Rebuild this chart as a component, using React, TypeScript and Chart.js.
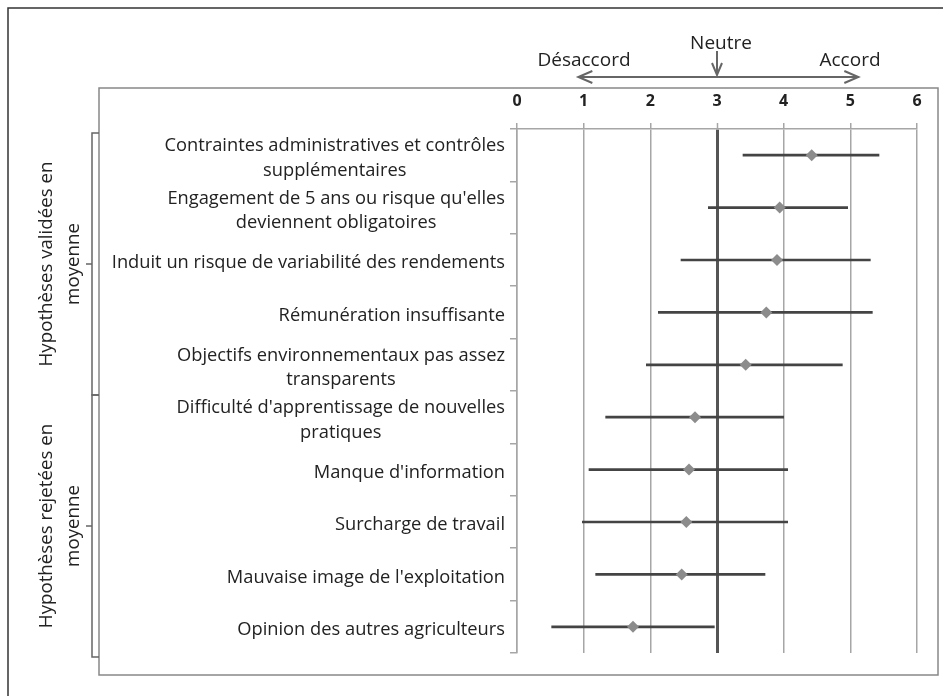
import React, { useEffect, useRef } from "react";
import { Chart, registerables } from "chart.js";

Chart.register(...registerables);

const categories: string[][] = [
  ["Contraintes administratives et contrôles", "supplémentaires"],
  ["Engagement de 5 ans ou risque qu'elles", "deviennent obligatoires"],
  ["Induit un risque de variabilité des rendements"],
  ["Rémunération insuffisante"],
  ["Objectifs environnementaux pas assez", "transparents"],
  ["Difficulté d'apprentissage de nouvelles", "pratiques"],
  ["Manque d'information"],
  ["Surcharge de travail"],
  ["Mauvaise image de l'exploitation"],
  ["Opinion des autres agriculteurs"],
];

const means: number[] = [4.42, 3.94, 3.9, 3.74, 3.43, 2.67, 2.58, 2.54, 2.47, 1.74];
const lows: number[] = [3.39, 2.87, 2.46, 2.12, 1.94, 1.33, 1.08, 0.98, 1.18, 0.52];
const highs: number[] = [5.43, 4.96, 5.3, 5.33, 4.88, 4.0, 4.06, 4.06, 3.72, 2.96];

const xTicks: number[] = [0, 1, 2, 3, 4, 5, 6];
const neutralValue = 3;

const groupLabels: string[][] = [
  ["Hypothèses validées en", "moyenne"],
  ["Hypothèses rejetées en", "moyenne"],
];
const groupRanges: number[][] = [
  [0, 4],
  [5, 9],
];

const topLabels = { left: "Désaccord", middle: "Neutre", right: "Accord" };
const arrowRange: number[] = [0.92, 5.12];

const FONT = "'Open Sans', Lato, sans-serif";

// Center multi-line category labels as a block (block stays right-aligned to the axis)
const labelAlignPlugin = {
  id: "labelAlign",
  beforeDraw(chart: any) {
    const ys = chart.scales.y;
    const items = ys.getLabelItems(chart.chartArea);
    const ctx = chart.ctx;
    items.forEach((item: any) => {
      if (item._adjusted) return;
      item._adjusted = true;
      const [x, y] = item.options.translation;
      if (Array.isArray(item.label) && item.label.length > 1) {
        ctx.save();
        ctx.font = item.font.string;
        const maxW = Math.max(...item.label.map((l: string) => ctx.measureText(l).width));
        ctx.restore();
        item.options.textAlign = "center";
        item.options.translation = [x - maxW / 2, y + 3];
      } else {
        item.options.translation = [x, y + 3];
      }
    });
  },
};

const annotationPlugin = {
  id: "annotations",
  beforeDraw(chart: any) {
    const ctx = chart.ctx;
    ctx.save();
    ctx.fillStyle = "#ffffff";
    ctx.fillRect(0, 0, chart.width, chart.height);
    ctx.restore();
  },
  afterDraw(chart: any) {
    const ctx = chart.ctx;
    const xs = chart.scales.x;
    const ys = chart.scales.y;
    ctx.save();

    // outer frame (top and left)
    ctx.strokeStyle = "#333";
    ctx.lineWidth = 1.5;
    ctx.beginPath();
    ctx.moveTo(8, chart.height + 2);
    ctx.lineTo(8, 8);
    ctx.lineTo(chart.width + 2, 8);
    ctx.stroke();

    // inner frame
    ctx.strokeStyle = "#888";
    ctx.lineWidth = 1.5;
    ctx.strokeRect(99, 88, 839, 587);

    // top arrows
    const ay = 77;
    const x1 = xs.getPixelForValue(arrowRange[0]);
    const x2 = xs.getPixelForValue(arrowRange[1]);
    const xn = xs.getPixelForValue(neutralValue);
    ctx.strokeStyle = "#666";
    ctx.lineWidth = 2;
    ctx.beginPath();
    ctx.moveTo(x1, ay);
    ctx.lineTo(x2, ay);
    ctx.moveTo(x1 + 14, ay - 6);
    ctx.lineTo(x1, ay);
    ctx.lineTo(x1 + 14, ay + 6);
    ctx.moveTo(x2 - 14, ay - 6);
    ctx.lineTo(x2, ay);
    ctx.lineTo(x2 - 14, ay + 6);
    ctx.moveTo(xn, 51);
    ctx.lineTo(xn, 75);
    ctx.moveTo(xn - 5, 63);
    ctx.lineTo(xn, 75);
    ctx.lineTo(xn + 5, 63);
    ctx.stroke();

    ctx.fillStyle = "#222";
    ctx.font = `19px ${FONT}`;
    ctx.textAlign = "center";
    ctx.textBaseline = "alphabetic";
    ctx.fillText(topLabels.left, 584, 66);
    ctx.fillText(topLabels.middle, 721, 49);
    ctx.fillText(topLabels.right, 850, 66);

    // group brackets and labels
    groupRanges.forEach((r, i) => {
      const band = (ys.getPixelForValue(1) - ys.getPixelForValue(0)) / 2;
      const top = ys.getPixelForValue(r[0]) - band + 4;
      const bottom = ys.getPixelForValue(r[1]) + band + 4;
      const mid = (top + bottom) / 2;
      ctx.strokeStyle = "#666";
      ctx.lineWidth = 1.5;
      ctx.beginPath();
      ctx.moveTo(99, top);
      ctx.lineTo(92, top);
      ctx.lineTo(92, bottom);
      ctx.lineTo(99, bottom);
      ctx.moveTo(92, mid);
      ctx.lineTo(86, mid);
      ctx.stroke();

      ctx.save();
      ctx.fillStyle = "#222";
      ctx.font = `18.7px ${FONT}`;
      ctx.textAlign = "center";
      ctx.textBaseline = "alphabetic";
      const lines = groupLabels[i];
      const baselines = [52, 79];
      lines.forEach((t, k) => {
        ctx.save();
        ctx.translate(baselines[k], mid);
        ctx.rotate(-Math.PI / 2);
        ctx.fillText(t, 0, 0);
        ctx.restore();
      });
      ctx.restore();
    });

    ctx.restore();
  },
};

export default function App() {
  const ref = useRef<HTMLCanvasElement | null>(null);

  useEffect(() => {
    if (!ref.current) return;
    const chart = new Chart(ref.current, {
      type: "bar",
      data: {
        labels: categories as any,
        datasets: [
          {
            type: "line",
            label: "Moyenne",
            data: means,
            indexAxis: "y",
            showLine: false,
            pointStyle: "rectRot",
            pointRadius: 6,
            pointBackgroundColor: "#8c8c8c",
            pointBorderColor: "#8c8c8c",
            pointBorderWidth: 0,
            order: 0,
          } as any,
          {
            type: "bar",
            label: "Intervalle",
            data: lows.map((l, i) => [l, highs[i]]),
            backgroundColor: "#444",
            borderWidth: 0,
            barThickness: 2,
            order: 1,
          } as any,
        ],
      },
      options: {
        indexAxis: "y",
        animation: false,
        responsive: false,
        maintainAspectRatio: false,
        layout: { padding: { left: 0, top: 0, right: 26, bottom: 43 } },
        plugins: {
          legend: { display: false },
          tooltip: { enabled: false },
        },
        scales: {
          x: {
            type: "linear",
            position: "top",
            min: 0,
            max: 6,
            afterBuildTicks: (scale: any) => {
              scale.ticks = xTicks.map((v) => ({ value: v }));
            },
            afterFit: (scale: any) => {
              scale.height = 129;
            },
            ticks: {
              padding: 12,
              color: "#222",
              font: { family: FONT, size: 16, weight: "bold" },
            },
            grid: {
              color: (c: any) => (c.tick && c.tick.value === neutralValue ? "#555" : "#a6a6a6"),
              lineWidth: (c: any) => (c.tick && c.tick.value === neutralValue ? 3 : 1.5),
              tickLength: 6,
              tickColor: "#a6a6a6",
              tickWidth: 1.5,
            },
            border: { display: true, color: "#a6a6a6", width: 1.5 },
          } as any,
          y: {
            type: "category",
            offset: true,
            afterFit: (scale: any) => {
              scale.width = 517;
            },
            ticks: {
              padding: 5,
              color: "#222",
              font: { family: FONT, size: 18.3, lineHeight: 1.33 },
              autoSkip: false,
            },
            grid: {
              offset: true,
              drawOnChartArea: false,
              tickLength: 7,
              color: "#a6a6a6",
              lineWidth: 1.5,
            },
            border: { display: true, color: "#a6a6a6", width: 1.5 },
          } as any,
        },
      },
      plugins: [labelAlignPlugin, annotationPlugin],
    });
    return () => chart.destroy();
  }, []);

  return (
    <div style={{ position: "fixed", left: 0, top: 0, width: 943, height: 696, background: "#fff" }}>
      <canvas ref={ref} width={943} height={696} style={{ width: 943, height: 696, display: "block" }} />
    </div>
  );
}
